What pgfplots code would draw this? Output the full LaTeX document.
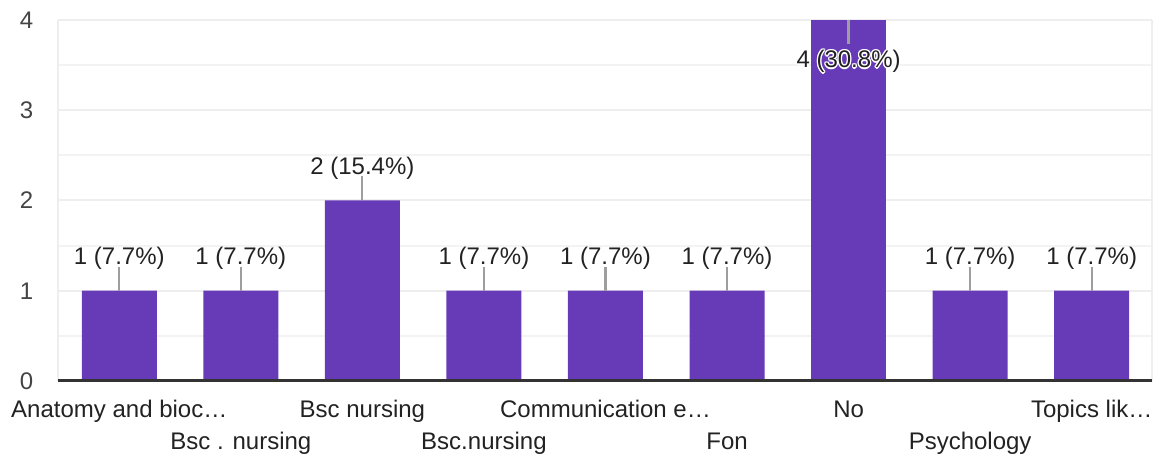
\documentclass[border=0pt]{standalone}
\usepackage{pgfplots}
\pgfplotsset{compat=1.18}
\usepackage{pgfplotstable}
\usepackage{fontspec}
\setmainfont{Liberation Sans}
\definecolor{barc}{HTML}{673AB7}
\definecolor{gridc}{HTML}{EEEEEE}
\definecolor{axc}{HTML}{333333}
\definecolor{txt}{HTML}{222222}
\definecolor{ticktxt}{HTML}{444444}
\definecolor{leader}{HTML}{9E9E9E}
\newcommand{\halo}[1]{\leavevmode
 \rlap{\textcolor{white}{\kern1.3pt #1}}%
 \rlap{\textcolor{white}{\kern-1.3pt #1}}%
 \rlap{\textcolor{white}{\raisebox{1.3pt}{#1}}}%
 \rlap{\textcolor{white}{\raisebox{-1.3pt}{#1}}}%
 \rlap{\textcolor{white}{\kern1pt\raisebox{1pt}{#1}}}%
 \rlap{\textcolor{white}{\kern-1pt\raisebox{1pt}{#1}}}%
 \rlap{\textcolor{white}{\kern1pt\raisebox{-1pt}{#1}}}%
 \rlap{\textcolor{white}{\kern-1pt\raisebox{-1pt}{#1}}}%
 #1}
\pgfplotstableread[col sep=comma]{
x,y,err,lab
0,1,0.266,1 (7.7\%)
1,1,0.266,1 (7.7\%)
2,2,0.266,2 (15.4\%)
3,1,0.266,1 (7.7\%)
4,1,0.266,1 (7.7\%)
5,1,0.266,1 (7.7\%)
7,1,0.266,1 (7.7\%)
8,1,0.266,1 (7.7\%)
}\datamain
\pgfplotstableread[col sep=comma]{
x,y,err,lab
6,4,0.266,4 (30.8\%)
}\datatop
\begin{document}
\begin{tikzpicture}
\begin{axis}[
  name=ax,
  scale only axis,
  width=1094pt, height=361pt,
  xmin=-0.5, xmax=8.5, ymin=0, ymax=4,
  axis line style={draw=none},
  ybar, bar width=75pt,
  ytick={0,1,2,3,4},
  minor ytick={0.5,1.5,2.5,3.5},
  ymajorgrids, yminorgrids,
  major grid style={draw=gridc, line width=2pt},
  minor grid style={draw=gridc!70, line width=2pt},
  major tick length=0pt, minor tick length=0pt,
  tick style={draw=none},
  /pgf/number format/assume math mode=true,
  yticklabel style={font=\fontsize{24}{28}\selectfont, text=ticktxt, anchor=east, inner sep=0pt, xshift=-25pt},
  xtick={0,1,2,3,4,5,6,7,8},
  xticklabels={Anatomy and bioc…, {\raisebox{-33pt}{Bsc . nursing}}, Bsc nursing, {\raisebox{-33pt}{Bsc.nursing}}, Communication e…, {\raisebox{-33pt}{Fon}}, No, {\raisebox{-33pt}{Psychology}}, Topics lik…},
  xticklabel style={font=\fontsize{24}{28}\selectfont, text=txt, anchor=base, inner sep=0pt, yshift=-36pt},
  point meta=explicit symbolic,
  clip=false,
]
\addplot[fill=barc, draw=none, bar shift=0pt,
  nodes near coords,
  nodes near coords style={font=\fontsize{24}{28}\selectfont, text=txt, anchor=base, inner sep=0pt, yshift=26pt},
  error bars/.cd, y dir=plus, y explicit,
  error mark=none, error bar style={draw=leader, line width=2.2pt}]
  table[x=x, y=y, y error=err, meta=lab]{\datamain};
\addplot[fill=barc, draw=none, bar shift=0pt,
  nodes near coords={\halo{\pgfplotspointmeta}},
  nodes near coords style={font=\fontsize{24}{28}\selectfont, text=txt, anchor=base, inner sep=0pt, yshift=-48pt},
  error bars/.cd, y dir=minus, y explicit,
  error mark=none, error bar style={draw=leader, line width=2.2pt}]
  table[x=x, y=y, y error=err, meta=lab]{\datatop};
\draw[gridc, line width=2pt] (axis cs:-0.5,0) -- (axis cs:-0.5,4);
\draw[gridc, line width=2pt] (axis cs:8.5,0) -- (axis cs:8.5,4);
\draw[axc, line width=3pt] (axis cs:-0.5,0) -- (axis cs:8.5,0);
\end{axis}
\pgfresetboundingbox
\path (ax.south west) ++(-58.5pt,-76pt) rectangle ++(1158pt,457pt);
\end{tikzpicture}
\end{document}
